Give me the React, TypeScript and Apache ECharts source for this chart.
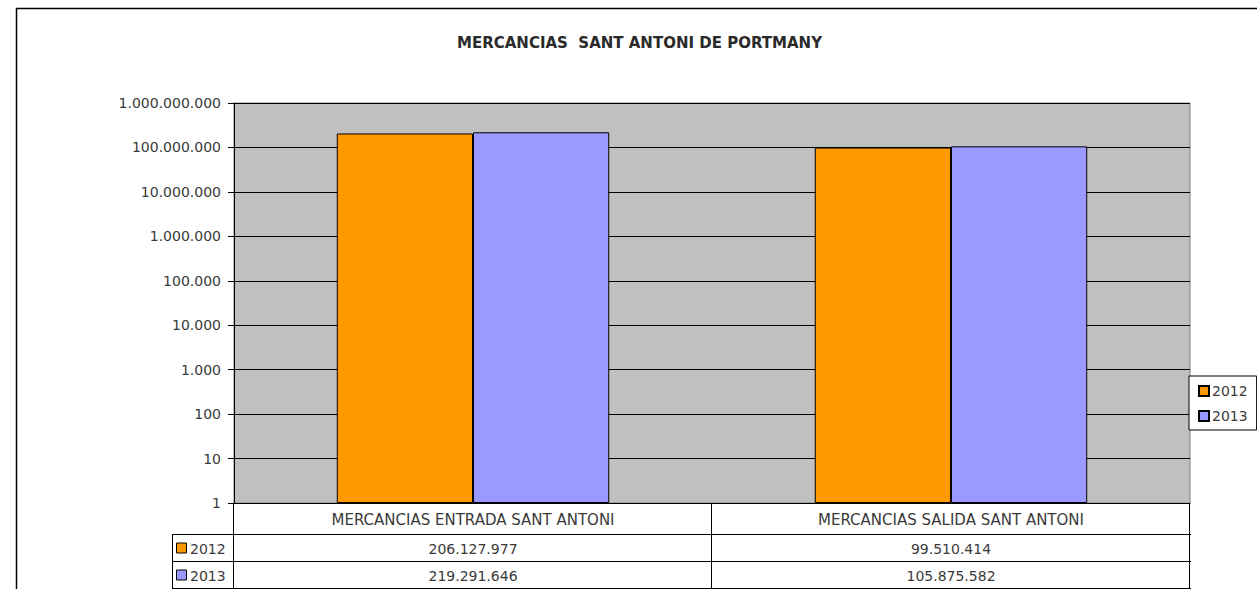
import React, { useEffect, useRef } from "react";
import * as echarts from "echarts";

const categories = ["MERCANCIAS ENTRADA SANT ANTONI", "MERCANCIAS SALIDA SANT ANTONI"];
const seriesNames = ["2012", "2013"];
const values2012 = [206127977, 99510414];
const values2013 = [219291646, 105875582];
const colors = ["#FF9900", "#9999FF"];
const titleText = "MERCANCIAS  SANT ANTONI DE PORTMANY";

const FONT = "'DejaVu Sans', sans-serif";
const TEXT = "#3a3a3a";
const FS = 14;

function fmt(v: number): string {
  const s = Math.round(v).toString();
  return s.replace(/\B(?=(\d{3})+(?!\d))/g, ".");
}

const G = { left: 234, top: 103, width: 956, height: 400 };

export default function App() {
  const ref = useRef<HTMLDivElement>(null);
  useEffect(() => {
    if (!ref.current) return;
    const chart = echarts.init(ref.current, undefined, { renderer: "svg" });
    const right = G.left + G.width;
    const bottom = G.top + G.height;
    const bandW = G.width / categories.length;
    const rowH = [31, 27, 27];
    const y1 = bottom + rowH[0];
    const y2 = y1 + rowH[1];
    const y3 = y2 + rowH[2];
    const tableLeft = 172;
    const lineStyle = { stroke: "#000", lineWidth: 1 };
    const graphics: any[] = [];
    graphics.push({ type: "rect", shape: { x: 16.5, y: 8.5, width: 1400, height: 800 }, style: { fill: "none", stroke: "#000", lineWidth: 1.5 }, silent: true });
    const hl = (y: number, x0: number, x1: number) =>
      graphics.push({ type: "line", shape: { x1: x0, y1: y + 0.5, x2: x1, y2: y + 0.5 }, style: lineStyle, silent: true });
    const vl = (x: number, ya: number, yb: number) =>
      graphics.push({ type: "line", shape: { x1: x + 0.5, y1: ya, x2: x + 0.5, y2: yb }, style: lineStyle, silent: true });
    hl(y1, tableLeft, right + 1);
    hl(y2, tableLeft, right + 1);
    hl(y3, tableLeft, right + 1);
    vl(tableLeft, y1, y3 + 1);
    vl(G.left - 1, bottom, y3 + 1);
    for (let i = 1; i <= categories.length; i++) vl(G.left + bandW * i - 1, bottom, y3 + 1);
    categories.forEach((c, i) => {
      graphics.push({ type: "text", x: G.left + bandW * (i + 0.5), y: bottom + rowH[0] / 2 + 1, style: { text: c, fill: TEXT, font: `15px ${FONT}`, align: "center", verticalAlign: "middle" }, silent: true });
    });
    const rows = [values2012, values2013];
    const rowY = [y1 + rowH[1] / 2 + 1, y2 + rowH[2] / 2 + 1];
    rows.forEach((vals, r) => {
      graphics.push({ type: "rect", shape: { x: 176.5, y: rowY[r] - 5.5, width: 10, height: 10 }, style: { fill: colors[r], stroke: "#000", lineWidth: 1 }, silent: true });
      graphics.push({ type: "text", x: 190, y: rowY[r], style: { text: seriesNames[r], fill: TEXT, font: `${FS}px ${FONT}`, align: "left", verticalAlign: "middle" }, silent: true });
      vals.forEach((v, i) => {
        graphics.push({ type: "text", x: G.left + bandW * (i + 0.5), y: rowY[r], style: { text: fmt(v), fill: TEXT, font: `${FS}px ${FONT}`, align: "center", verticalAlign: "middle" }, silent: true });
      });
    });

    chart.setOption({
      animation: false,
      title: {
        text: titleText,
        left: 452,
        top: 30,
        textStyle: { fontFamily: FONT, fontSize: 15, fontWeight: "bold", color: "#2a2a2a" },
      },
      legend: {
        orient: "vertical",
        left: 1189,
        top: 376,
        data: seriesNames,
        itemWidth: 10,
        itemHeight: 10,
        itemGap: 11,
        padding: [8, 9, 7, 9],
        borderColor: "#000",
        borderWidth: 1,
        backgroundColor: "#fff",
        icon: "rect",
        textStyle: { fontFamily: FONT, fontSize: FS, color: TEXT, padding: [0, 0, 0, -2] },
      },
      grid: {
        left: G.left,
        top: G.top,
        width: G.width,
        height: G.height,
        show: true,
        backgroundColor: "#C0C0C0",
        borderColor: "#808080",
        borderWidth: 1,
        containLabel: false,
      },
      xAxis: {
        type: "category",
        data: categories,
        axisLine: { show: true, lineStyle: { color: "#000", width: 1 } },
        axisTick: { show: false },
        axisLabel: { show: false },
      },
      yAxis: {
        type: "log",
        logBase: 10,
        min: 1,
        max: 1000000000,
        axisLine: { show: true, lineStyle: { color: "#000", width: 1 } },
        axisTick: { show: true, length: 6, lineStyle: { color: "#000" } },
        axisLabel: {
          formatter: (v: number) => fmt(v),
          fontFamily: FONT,
          fontSize: FS,
          color: TEXT,
          margin: 13,
        },
        splitLine: { show: true, lineStyle: { color: "#000", width: 1 } },
      },
      series: [
        {
          name: seriesNames[0],
          type: "bar",
          data: values2012,
          barGap: "0%",
          barCategoryGap: "43%",
          itemStyle: { color: colors[0], borderColor: "#000", borderWidth: 1 },
        },
        {
          name: seriesNames[1],
          type: "bar",
          data: values2013,
          barGap: "0%",
          barCategoryGap: "43%",
          itemStyle: { color: colors[1], borderColor: "#000", borderWidth: 1 },
        },
      ],
      graphic: graphics,
    });
    return () => chart.dispose();
  }, []);
  return <div ref={ref} style={{ position: "fixed", left: 0, top: 0, width: 1257, height: 589, background: "#fff" }} />;
}
